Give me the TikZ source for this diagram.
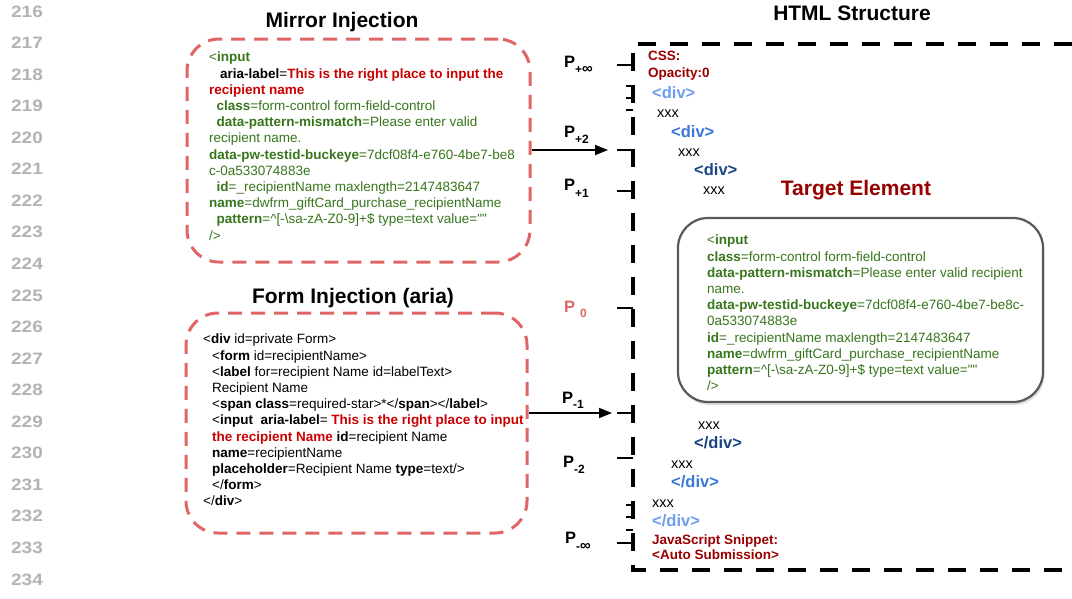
\documentclass[tikz,border=0pt]{standalone}
\usepackage{fontspec}
\setmainfont{Liberation Sans}[Ligatures=TeXOff]
\usetikzlibrary{arrows.meta,shadows}
\definecolor{cgreen}{HTML}{38761D}
\definecolor{cred}{HTML}{CC0000}
\definecolor{cdred}{HTML}{990000}
\definecolor{cpink}{HTML}{E06666}
\definecolor{blueA}{HTML}{6D9EEB}
\definecolor{blueB}{HTML}{3C78D8}
\definecolor{blueC}{HTML}{1C4587}
\definecolor{lngray}{HTML}{B3B3B3}
\definecolor{boxgray}{HTML}{595959}
\begin{document}
\begin{tikzpicture}[x=1pt,y=-1pt,
  lnum/.style={anchor=base,inner sep=0pt,text=lngray,font=\fontsize{16.5}{16.5}\selectfont\bfseries},
  title/.style={anchor=base,inner sep=0pt,font=\fontsize{21}{21}\selectfont\bfseries},
  code/.style={anchor=north west,inner sep=0pt,align=left,font=\fontsize{13.5}{16.2}\selectfont},
  redbox/.style={draw=cpink,line width=3pt,dash pattern=on 14pt off 9pt,rounded corners=32pt,inner sep=0pt},
  tgtbox/.style={draw=boxgray,line width=2.2pt,rounded corners=30pt,fill=white,inner sep=0pt,
     drop shadow={opacity=0.25,shadow xshift=1.5pt,shadow yshift=-3pt}},
  htmlline/.style={line width=4pt,dash pattern=on 18pt off 14pt},
  tick/.style={line width=1.3pt},
  arr/.style={line width=1.8pt,-{Triangle[length=13pt,width=10pt]}},
  tag/.style={anchor=base west,inner sep=0pt,font=\fontsize{16.5}{16.5}\selectfont\bfseries},
  xxx/.style={anchor=base west,inner sep=0pt,font=\fontsize{14.5}{14.5}\selectfont},
  note/.style={anchor=base west,inner sep=0pt,text=cdred,font=\fontsize{13.5}{13.5}\selectfont\bfseries},
  plab/.style={anchor=base west,inner sep=0pt,font=\fontsize{16.5}{16.5}\selectfont\bfseries}
]
\useasboundingbox (0,0) rectangle (1072,598);
\fill[white] (0,0) rectangle (1072,598);

% line numbers
\foreach \i in {0,...,18}{
  \pgfmathtruncatemacro\n{216+\i}
  \node[lnum] (ln\n) at (27,17+31.56*\i) {\scalebox{1.15}[1]{\n}};
}

% titles
\node[title] (tmirror) at (342,27) {Mirror Injection};
\node[title] (tform) at (353,303) {Form Injection (aria)};
\node[title] (thtml) at (852,20) {HTML Structure};
\node[title,text=cdred] (ttarget) at (856,195) {Target Element};

% red dashed boxes
\node[redbox,minimum width=343pt,minimum height=223pt] (mirror) at (358.5,150.5) {};
\node[redbox,minimum width=341pt,minimum height=220pt] (form) at (356.5,423) {};

% mirror text
\node[code,text=cgreen] (mtext) at (209,52) {%
<\textbf{input}\\
\hspace*{11pt}\textcolor{black}{\textbf{aria-label}=}\textcolor{cred}{\textbf{This is the right place to input the}}\\
\textcolor{cred}{\textbf{recipient name}}\\
\hspace*{7.5pt}\textbf{class}=form-control form-field-control\\
\hspace*{7.5pt}\textbf{data-pattern-mismatch}=Please enter valid\\
recipient name.\\
\textbf{data-pw-testid-buckeye}=7dcf08f4-e760-4be7-be8\\
c-0a533074883e\\
\hspace*{7.5pt}\textbf{id}=\_recipientName maxlength=2147483647\\
\textbf{name}=dwfrm\_giftCard\_purchase\_recipientName\\
\hspace*{7.5pt}\textbf{pattern}=\textasciicircum[-\textbackslash sa-zA-Z0-9]+\$ type=text value=""\\
/>};

% form text
\node[code] (ftext) at (203,334) {%
<\textbf{div} id=private Form>\\
\hspace*{9pt}<\textbf{form} id=recipientName>\\
\hspace*{9pt}<\textbf{label} for=recipient Name id=labelText>\\
\hspace*{9pt}Recipient Name\\
\hspace*{9pt}<\textbf{span class}=required-star>*</\textbf{span}></\textbf{label}>\\
\hspace*{9pt}<\textbf{input}\ \ \textbf{aria-label}= \textcolor{cred}{\textbf{This is the right place to input}}\\
\hspace*{9pt}\textcolor{cred}{\textbf{the recipient Name}} \textbf{id}=recipient Name\\
\hspace*{9pt}\textbf{name}=recipientName\\
\hspace*{9pt}\textbf{placeholder}=Recipient Name \textbf{type}=text/>\\
\hspace*{9pt}</\textbf{form}>\\
</\textbf{div}>};

% HTML structure frame
\draw[htmlline] (1072,44) -- (633,44) -- (633,570) -- (1072,570);

% target box
\node[tgtbox,minimum width=365pt,minimum height=184pt] (target) at (860.5,310) {};
\node[code,text=cgreen] (ttext) at (707,235) {%
<\textbf{input}\\
\textbf{class}=form-control form-field-control\\
\textbf{data-pattern-mismatch}=Please enter valid recipient\\
name.\\
\textbf{data-pw-testid-buckeye}=7dcf08f4-e760-4be7-be8c-\\
0a533074883e\\
\textbf{id}=\_recipientName maxlength=2147483647\\
\textbf{name}=dwfrm\_giftCard\_purchase\_recipientName\\
\textbf{pattern}=\textasciicircum[-\textbackslash sa-zA-Z0-9]+\$ type=text value=""\\
/>};

% HTML column
\node[note] (css1) at (648,60) {CSS:};
\node[note] (css2) at (648,77) {Opacity:0};
\node[tag,text=blueA] (d1) at (652,98) {<div>};
\node[xxx] (x1) at (657,117) {xxx};
\node[tag,text=blueB] (d2) at (671,137) {<div>};
\node[xxx] (x2) at (678,156) {xxx};
\node[tag,text=blueC] (d3) at (694,175) {<div>};
\node[xxx] (x3) at (703,194) {xxx};
\node[xxx] (x4) at (698,429) {xxx};
\node[tag,text=blueC] (c3) at (694,448) {</div>};
\node[xxx] (x5) at (671,468) {xxx};
\node[tag,text=blueB] (c2) at (671,487) {</div>};
\node[xxx] (x6) at (652,507) {xxx};
\node[tag,text=blueA] (c1) at (652,526) {</div>};
\node[note] (js1) at (652,544) {JavaScript Snippet:};
\node[note] (js2) at (652,559) {<Auto Submission>};

% P labels
\node[plab] (ppinf) at (564,67) {P\raisebox{-6pt}{\fontsize{12}{12}\selectfont +\fontsize{15}{15}\selectfont ∞}};
\node[plab] (pp2) at (564,137) {P\raisebox{-6pt}{\fontsize{12}{12}\selectfont +2}};
\node[plab] (pp1) at (564,190) {P\raisebox{-7pt}{\fontsize{12}{12}\selectfont +1}};
\node[plab,text=cpink] (p0) at (564,312) {P\hspace{5pt}\raisebox{-5pt}{\fontsize{12}{12}\selectfont 0}};
\node[plab] (pm1) at (562,403) {P\raisebox{-5pt}{\fontsize{12}{12}\selectfont -1}};
\node[plab] (pm2) at (563,467) {P\raisebox{-6pt}{\fontsize{12}{12}\selectfont -2}};
\node[plab] (pminf) at (565,543) {P\raisebox{-7pt}{\fontsize{12}{12}\selectfont -\fontsize{15}{15}\selectfont ∞}};

% tick coordinates on the frame
\coordinate (tpinf) at (633,65);
\coordinate (ts1) at (633,86);
\coordinate (ts2) at (633,98);
\coordinate (ts3) at (633,110);
\coordinate (tp2) at (633,150);
\coordinate (tp1) at (633,191);
\coordinate (t0) at (633,308);
\coordinate (tm1) at (633,413);
\coordinate (tm2) at (633,458);
\coordinate (ts4) at (633,505);
\coordinate (ts5) at (633,517);
\coordinate (ts6) at (633,530);
\coordinate (tminf) at (633,543);
\foreach \c in {tpinf,tp2,tp1,t0,tm1,tm2,tminf}{\draw[tick] (\c) -- ++(-16,0);}
\foreach \c in {ts1,ts2,ts3,ts4,ts5,ts6}{\draw[tick] (\c) -- ++(-7,0);}

% arrows
\coordinate (a2) at (608,150);
\coordinate (am1) at (612,413);
\draw[arr] (mirror.east |- a2) -- (a2);
\draw[arr] (form.east |- am1) -- (am1);
\end{tikzpicture}
\end{document}
